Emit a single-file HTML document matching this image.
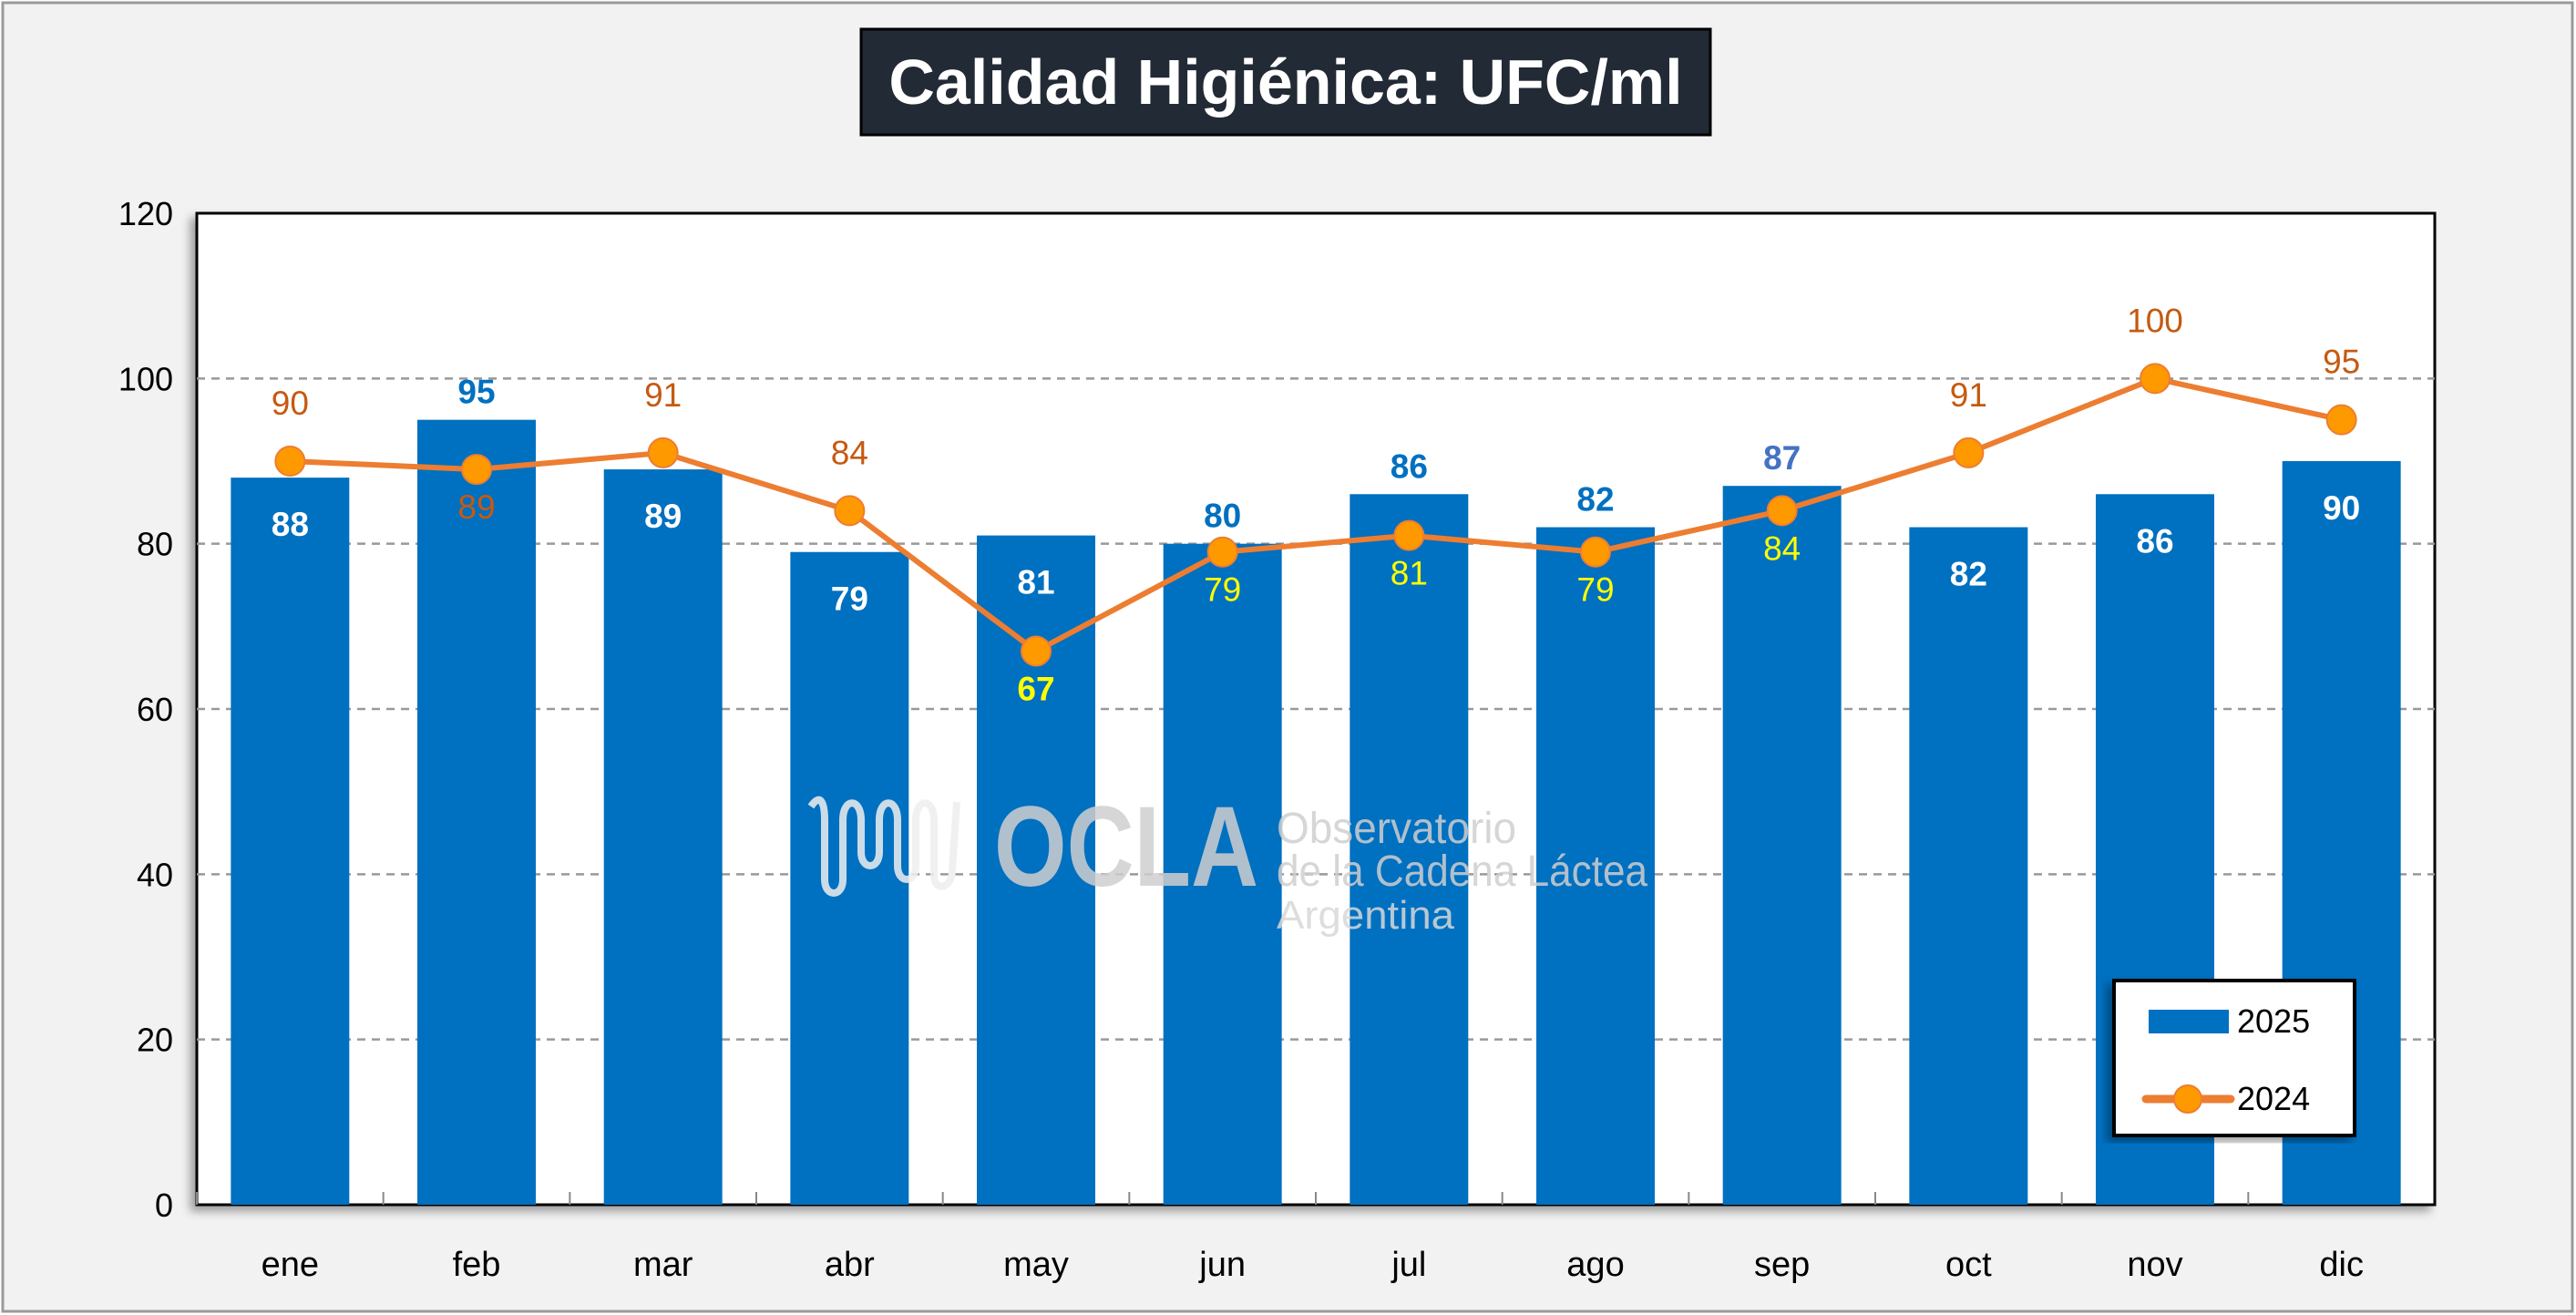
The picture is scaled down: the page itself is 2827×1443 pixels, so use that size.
<!DOCTYPE html>
<html><head><meta charset="utf-8"><style>
html,body{margin:0;padding:0;background:#fff}
svg{display:block;font-family:"Liberation Sans",sans-serif}
</style></head><body>
<svg id="chart" width="2827" height="1443" viewBox="0 0 2827 1443">
<defs><filter id="sh" x="-5%" y="-5%" width="110%" height="110%"><feDropShadow dx="-6" dy="6" stdDeviation="5" flood-color="#000" flood-opacity="0.35"/></filter></defs>
<rect x="3" y="3" width="2820" height="1436" fill="#f2f2f2" stroke="#9a9a9a" stroke-width="3"/>
<rect x="945" y="32" width="932" height="116" fill="#222a35" stroke="#000" stroke-width="3"/>
<text x="1411" y="114" text-anchor="middle" font-size="70" font-weight="bold" fill="#fff">Calidad Higiénica: UFC/ml</text>
<rect x="216" y="234" width="2456" height="1088" fill="#fff" stroke="#000" stroke-width="3" filter="url(#sh)"/>
<g id="grid"></g>
<g id="bars"></g>
<g id="watermark" opacity="0.85">
<path d="M890 885 C900 870 905 880 905 900 L905 965 C905 985 925 985 925 965 L925 900 C925 875 945 875 945 900 L945 935 C945 955 965 955 965 935 L965 900 C965 875 985 875 985 900 L985 950 C985 970 1005 970 1005 950 L1005 900 C1005 875 1025 875 1025 900 L1025 960 C1025 980 1045 975 1045 955 L1050 880" fill="none" stroke="#eee" stroke-width="8"/>
<text x="1091" y="972" font-size="125" font-weight="bold" fill="#cfcfcf" textLength="290" lengthAdjust="spacingAndGlyphs">OCLA</text>
<text x="1401" y="925" font-size="48" fill="#cfcfcf" textLength="263" lengthAdjust="spacingAndGlyphs">Observatorio</text>
<text x="1401" y="972" font-size="48" fill="#cfcfcf" textLength="407" lengthAdjust="spacingAndGlyphs">de la Cadena Láctea</text>
<text x="1401" y="1019" font-size="44" fill="#d8d8d8" textLength="195" lengthAdjust="spacingAndGlyphs">Argentina</text>
</g>
<g id="line"></g>
<g id="labels"></g>
<g id="axes"></g>
<g>
<rect x="2320" y="1076" width="264" height="170" fill="#fff" stroke="#000" stroke-width="4" filter="url(#sh)"/>
<rect x="2358" y="1108" width="88" height="26" fill="#0070c0"/>
<text x="2455" y="1133" font-size="36" fill="#000">2025</text>
<line x1="2355" y1="1206" x2="2448" y2="1206" stroke="#ed7d31" stroke-width="9" stroke-linecap="round"/>
<circle cx="2401" cy="1206" r="15" fill="#ff9900" stroke="#ed7d31" stroke-width="2"/>
<text x="2455" y="1218" font-size="36" fill="#000">2024</text>
</g>
</svg>
<script>
const categories=["ene","feb","mar","abr","may","jun","jul","ago","sep","oct","nov","dic"];
const values2025=[88,95,89,79,81,80,86,82,87,82,86,90];
const values2024=[90,89,91,84,67,79,81,79,84,91,100,95];
const yTicks=[0,20,40,60,80,100,120];
const label2025Above=[false,true,false,false,false,true,true,true,true,false,false,false];
const label2024Below=[false,true,false,false,true,true,true,true,true,false,false,false];
const NS="http://www.w3.org/2000/svg";
const L=216,R=2672,T=234,B=1322,slot=(R-L)/categories.length;
const y=v=>B-(v/120)*(B-T);
const x=i=>L+slot*(i+0.5);
function mk(tag,attrs,parent,txt){const e=document.createElementNS(NS,tag);for(const k in attrs)e.setAttribute(k,attrs[k]);if(txt!==undefined)e.textContent=txt;document.getElementById(parent).appendChild(e);return e;}
yTicks.forEach(t=>{
  if(t>0&&t<120){const g=mk('line',{x1:L,x2:R,y1:y(t),y2:y(t),stroke:'#999','stroke-width':2.5,'stroke-dasharray':'9 7'},'grid');
  
  }
  const lb=mk('text',{x:190,y:y(t)+13,'text-anchor':'end','font-size':36,fill:'#000'},'axes',t);
  
  
});
const bw=slot*0.635;
categories.forEach((c,i)=>{
  const v=values2025[i];
  const b=mk('rect',{x:x(i)-bw/2,y:y(v),width:bw,height:B-y(v),fill:'#0070c0'},'bars');
  
  
  const above=label2025Above[i];
  const l=mk('text',{x:x(i),y:above?y(v)-18:y(v)+64,'text-anchor':'middle','font-size':37,'font-weight':'bold',fill:above?(c==='sep'?'#4472c4':'#0070c0'):'#fff'},'labels',v);
  
  
  const tk=mk('line',{x1:L+slot*i,x2:L+slot*i,y1:B-14,y2:B,stroke:'#888','stroke-width':2},'axes');
  
  
  const xl=mk('text',{x:x(i),y:1400,'text-anchor':'middle','font-size':38,fill:'#000'},'axes',c);
  
  
});
const pts=values2024.map((v,i)=>x(i)+','+y(v)).join(' ');
const pl=mk('polyline',{points:pts,fill:'none',stroke:'#ed7d31','stroke-width':6,'stroke-linejoin':'round'},'line');


values2024.forEach((v,i)=>{
  const m=mk('circle',{cx:x(i),cy:y(v),r:16,fill:'#ff9900',stroke:'#ed7d31','stroke-width':2},'line');
  
  
  const below=label2024Below[i];
  const onBar=below&&i!==1;
  const l=mk('text',{x:x(i),y:below?y(v)+54:y(v)-51,'text-anchor':'middle','font-size':37,'font-weight':i===4?'bold':'normal',fill:onBar?'#ffff00':'#c55a11'},'labels',v);
  
  
});
</script>
</body></html>
